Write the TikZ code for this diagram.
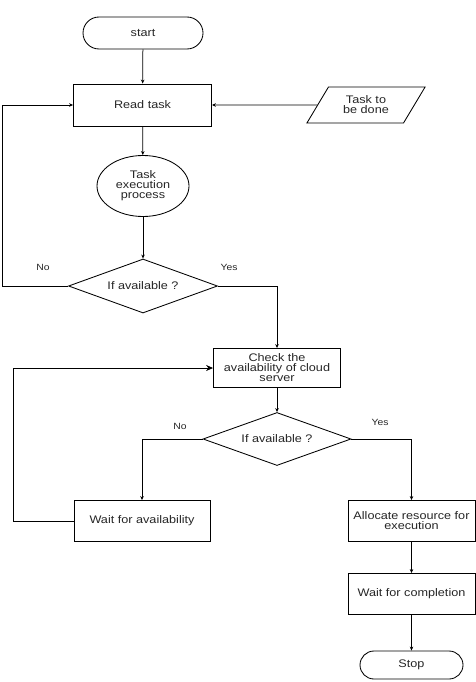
\documentclass[tikz,border=0pt]{standalone}
\usepackage{fontspec}
\setmainfont{Liberation Sans}[FakeStretch=1.15]
\usetikzlibrary{shapes.geometric,arrows.meta}
\begin{document}
\begin{tikzpicture}[x=1pt,y=-1pt,
  every node/.style={font=\fontsize{11}{10}\selectfont, text=black!85, align=center, inner sep=0pt},
  box/.style={draw, rectangle, line width=0.85pt},
  term/.style={draw, rectangle, rounded corners=14pt, line width=0.85pt},
  dec/.style={draw, diamond, line width=0.85pt, aspect=2.76},
  io/.style={draw, trapezium, trapezium left angle=54, trapezium right angle=126, trapezium stretches=true, line width=0.85pt},
  proc/.style={draw, ellipse, line width=0.85pt},
  lab/.style={font=\fontsize{9}{10}\selectfont},
  arr/.style={-{Stealth[length=4pt,width=3.5pt]}, line width=0.75pt},
  bigarr/.style={-{Stealth[length=7pt,width=6pt]}, line width=0.85pt},
  line/.style={line width=0.75pt}]
\useasboundingbox (0,0) rectangle (476,682);

\node[term, minimum width=120pt, minimum height=32pt, rounded corners=16pt] (start) at (143,33) {start};
\node[box, minimum width=138pt, minimum height=42pt] (read) at (142.5,105) {Read task};
\node[io, minimum width=119pt, minimum height=36pt] (task) at (366,105) {Task to\\be done};
\node[proc, minimum width=92pt, minimum height=61pt] (exec) at (143,186) {Task\\execution\\process};
\node[dec, minimum width=149pt, minimum height=54pt] (d1) at (143,286) {If available ?};
\node[box, minimum width=127pt, minimum height=39pt] (check) at (277,368) {Check the\\availability of cloud\\server};
\node[dec, minimum width=148pt, minimum height=53pt] (d2) at (277,439) {If available ?};
\node[box, minimum width=136pt, minimum height=41pt] (wait) at (142,521) {Wait for availability};
\node[box, minimum width=127pt, minimum height=41pt] (alloc) at (411.5,521) {Allocate resource for\\execution};
\node[box, minimum width=127pt, minimum height=41pt] (comp) at (411.5,594) {Wait for completion};
\node[term, minimum width=103pt, minimum height=28pt] (stop) at (411.5,665) {Stop};

\node[lab] (n1) at (43,267) {No};
\node[lab] (y1) at (229,267) {Yes};
\node[lab] (n2) at (180,426) {No};
\node[lab] (y2) at (380,422) {Yes};

\coordinate (lx) at (2.5,0);
\coordinate (fx) at (13,0);

\draw[arr] (start) -- (read);
\draw[arr] (task.west) -- (read.east);
\draw[arr] (read) -- (exec);
\draw[arr] (exec) -- (d1);
\draw[arr] (d1.west) -- (d1.west -| lx) |- (read.west);
\draw[arr] (d1.east) -| (check.north);
\draw[arr] (check) -- (d2);
\draw[arr] (d2.west) -| (wait.north);
\draw[arr] (d2.east) -| (alloc.north);
\draw[bigarr] (wait.west) -- (wait.west -| fx) |- (check.west);
\draw[arr] (alloc) -- (comp);
\draw[arr] (comp) -- (stop);
\end{tikzpicture}
\end{document}
